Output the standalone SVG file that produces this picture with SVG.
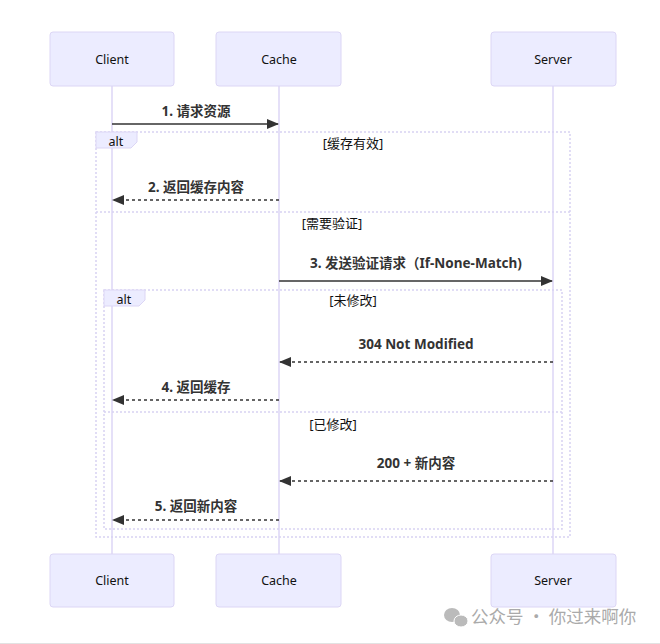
<svg xmlns="http://www.w3.org/2000/svg" width="660" height="644" viewBox="0 0 660 644">
<defs>
<style>
.actor{fill:#ECECFF;stroke:#dcd6f5;stroke-width:1}
.atext{font-family:"Noto Sans","Noto Sans CJK SC",sans-serif;font-size:12.5px;fill:#111;text-anchor:middle;dominant-baseline:central}
.life{stroke:#ddd6f6;stroke-width:1.5}
.frame{fill:none;stroke:#d8d2f2;stroke-width:1.5;stroke-dasharray:2 2}
.msg{font-family:"Noto Sans","Noto Sans CJK SC",sans-serif;font-size:13.5px;font-weight:bold;fill:#333;text-anchor:middle}
.sec{font-family:"Noto Sans","Noto Sans CJK SC",sans-serif;font-size:13px;fill:#111;text-anchor:middle}
.solid{stroke:#333;stroke-width:1.5;fill:none}
.dash{stroke:#333;stroke-width:1.5;fill:none;stroke-dasharray:3 3}
.lbox{fill:#ECECFF;stroke:#dcd6f5;stroke-width:1}
.ltext{font-family:"Noto Sans",sans-serif;font-size:12.5px;fill:#111;text-anchor:middle;dominant-baseline:central}
</style>
<marker id="ah" viewBox="0 0 12 10" refX="11" refY="5" markerWidth="12" markerHeight="10" markerUnits="userSpaceOnUse" orient="auto">
<path d="M0,0 L12,5 L0,10 z" fill="#333"/>
</marker>
</defs>
<rect width="660" height="644" fill="#fff"/>
<line x1="0" y1="643.5" x2="660" y2="643.5" stroke="#e2e2e2" stroke-width="1"/>
<g id="lifelines">
<line class="life" x1="112" y1="86" x2="112" y2="554"/>
<line class="life" x1="279" y1="86" x2="279" y2="554"/>
<line class="life" x1="553" y1="86" x2="553" y2="554"/>
</g>
<g id="actor-client-top"><rect class="actor" x="50" y="32" width="124" height="54" rx="3"/><text class="atext" x="112" y="59">Client</text></g>
<g id="actor-cache-top"><rect class="actor" x="216" y="32" width="125" height="54" rx="3"/><text class="atext" x="279" y="59">Cache</text></g>
<g id="actor-server-top"><rect class="actor" x="491" y="32" width="125" height="54" rx="3"/><text class="atext" x="553" y="59">Server</text></g>
<g id="actor-client-bottom"><rect class="actor" x="50" y="554" width="124" height="53" rx="3"/><text class="atext" x="112" y="580">Client</text></g>
<g id="actor-cache-bottom"><rect class="actor" x="216" y="554" width="125" height="53" rx="3"/><text class="atext" x="279" y="580">Cache</text></g>
<g id="actor-server-bottom"><rect class="actor" x="491" y="554" width="125" height="53" rx="3"/><text class="atext" x="553" y="580">Server</text></g>
<g id="alt-outer">
<rect class="frame" x="96" y="132" width="474" height="405"/>
<line class="frame" x1="96" y1="212" x2="570" y2="212"/>
<path class="lbox" d="M96,132 H137 V142 L131,148 H96 Z"/>
<text class="ltext" x="116" y="141">alt</text>
<text class="sec" x="353" y="148">[缓存有效]</text>
<text class="sec" x="332" y="228">[需要验证]</text>
</g>
<g id="alt-inner">
<rect class="frame" x="104" y="290" width="458" height="239"/>
<line class="frame" x1="104" y1="412" x2="562" y2="412"/>
<path class="lbox" d="M104,290 H145 V300 L139,306 H104 Z"/>
<text class="ltext" x="124" y="299">alt</text>
<text class="sec" x="353" y="305">[未修改]</text>
<text class="sec" x="333" y="429">[已修改]</text>
</g>
<g id="connectors">
<line class="solid" x1="112" y1="124" x2="278" y2="124" marker-end="url(#ah)"/>
<text class="msg" x="196" y="116">1. 请求资源</text>
<line class="dash" x1="279" y1="200" x2="113" y2="200" marker-end="url(#ah)"/>
<text class="msg" x="196" y="192">2. 返回缓存内容</text>
<line class="solid" x1="279" y1="281" x2="552" y2="281" marker-end="url(#ah)"/>
<text class="msg" x="416" y="268">3. 发送验证请求（If-None-Match)</text>
<line class="dash" x1="553" y1="362" x2="280" y2="362" marker-end="url(#ah)"/>
<text class="msg" x="416" y="349">304 Not Modified</text>
<line class="dash" x1="279" y1="400" x2="113" y2="400" marker-end="url(#ah)"/>
<text class="msg" x="196" y="392">4. 返回缓存</text>
<line class="dash" x1="553" y1="481" x2="280" y2="481" marker-end="url(#ah)"/>
<text class="msg" x="416" y="468">200 + 新内容</text>
<line class="dash" x1="279" y1="520" x2="113" y2="520" marker-end="url(#ah)"/>
<text class="msg" x="196" y="511">5. 返回新内容</text>
</g>
<g id="watermark">
<ellipse cx="452" cy="615" rx="8" ry="7" fill="#bbb"/>
<ellipse cx="461" cy="621" rx="7" ry="6" fill="#bbb" stroke="#fff" stroke-width="1"/>
<text x="471" y="623" font-family="Noto Sans CJK SC,sans-serif" font-size="17.5" fill="#aaa">公众号 · 你过来啊你</text>
</g>
</svg>
